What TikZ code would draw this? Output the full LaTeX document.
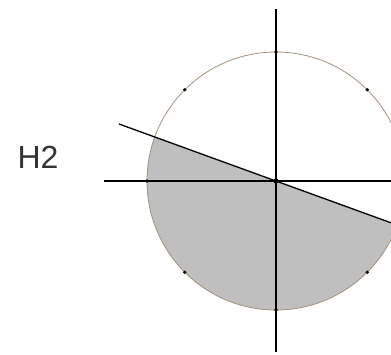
\documentclass[tikz,border=0pt]{standalone}
\usepackage{fontspec}
\setmainfont{Liberation Sans}
\begin{document}
\begin{tikzpicture}[x=1pt,y=-1pt,
  axis/.style={draw=black,line width=1.3pt},
  rim/.style={draw=black!45!brown!60!white,line width=0.8pt},
  pt/.style={fill=black},
  lbl/.style={text=black!80,font=\fontsize{32}{32}\selectfont,inner sep=0pt}]
\useasboundingbox (0,0) rectangle (391,354);
\clip (0,0) rectangle (391,354);
\coordinate (O) at (276,181);
% shaded half-disc below the slanted line
\fill[black!25] (O) -- ++(19.95:129) arc[start angle=19.95,end angle=199.95,radius=129] -- cycle;
\draw[rim] (O) circle[radius=129];
% axes
\coordinate (vt) at (276,9);
\coordinate (vb) at (276,352);
\coordinate (hl) at (104,181);
\coordinate (hr) at (391,181);
\draw[axis] (vt) -- (vb);
\draw[axis] (hl) -- (hr);
% slanted line
\coordinate (sl) at (119,124);
\coordinate (sr) at (391,222.8);
\draw[axis] (sl) -- (sr);
% points on circle
\foreach \a in {45,90,135,180,225,270,315}
  \fill[pt] (O) ++(\a:129) circle[radius=1.9];
\fill[pt] (O) circle[radius=2.6];
\node[lbl] (h2) at (38,157) {H2};
\end{tikzpicture}
\end{document}
